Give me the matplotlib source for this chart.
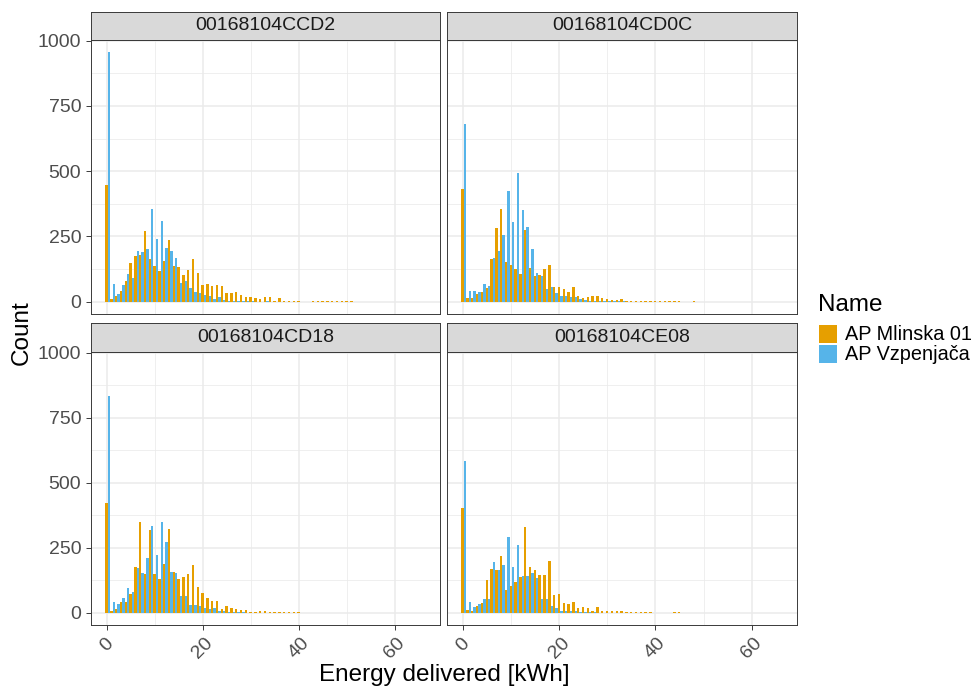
import matplotlib
matplotlib.use("Agg")
import matplotlib.pyplot as plt
from matplotlib.patches import Rectangle
import numpy as np

plt.rcParams['font.family'] = ['Liberation Sans', 'DejaVu Sans']

# histogram counts per 1 kWh bin, one list per charger and site
chargers = ['00168104CCD2', '00168104CD0C', '00168104CD18', '00168104CE08']
series_names = ['AP Mlinska 01', 'AP Vzpenjača']
series_colors = ['#E69F00', '#56B4E9']

mlinska_ccd2 = [445, 10, 20, 40, 80, 149, 174, 178, 270, 164, 136, 119, 154, 236, 136, 133,
                103, 122, 162, 110, 65, 68, 59, 64, 60, 31, 31, 36, 24, 17, 17, 12, 8, 17,
                17, 4, 12, 4, 4, 3, 3, 0, 0, 3, 3, 3, 3, 3, 3, 3, 3, 3]
vzpenjaca_ccd2 = [955, 69, 29, 63, 104, 91, 194, 191, 203, 356, 238, 309, 204, 194, 167, 72,
                  78, 51, 38, 33, 27, 23, 8, 17, 5, 4, 2, 2, 1, 1, 1, 0, 0, 1]

mlinska_cd0c = [431, 14, 12, 29, 36, 53, 164, 283, 356, 151, 142, 126, 106, 273, 129, 97,
                100, 123, 141, 55, 55, 49, 38, 55, 23, 14, 17, 23, 23, 14, 8, 5, 5, 10, 2,
                2, 3, 2, 2, 3, 2, 2, 2, 2, 1, 1, 0, 0, 2]
vzpenjaca_cd0c = [680, 42, 40, 36, 68, 60, 168, 192, 254, 424, 305, 492, 351, 287, 203, 110,
                  97, 49, 55, 31, 23, 23, 17, 17, 8, 5, 3, 3, 2, 2, 2, 1, 1, 1]

mlinska_cd18 = [420, 8, 13, 41, 41, 70, 177, 350, 149, 318, 150, 131, 187, 320, 155, 128,
                138, 147, 183, 97, 76, 56, 45, 45, 13, 26, 17, 12, 9, 9, 4, 4, 8, 5, 4, 4,
                4, 2, 2, 4, 4]
vzpenjaca_cd18 = [835, 42, 33, 58, 95, 78, 170, 154, 210, 333, 223, 347, 272, 158, 153, 63,
                  65, 28, 28, 26, 19, 15, 18, 6, 5, 3, 2, 1, 1]

mlinska_ce08 = [401, 10, 8, 24, 36, 126, 168, 162, 219, 87, 101, 117, 136, 328, 177, 162,
                145, 145, 200, 68, 72, 38, 33, 40, 17, 20, 17, 8, 20, 8, 5, 5, 8, 5, 2, 2,
                2, 2, 2, 2, 0, 0, 0, 0, 2, 2]
vzpenjaca_ce08 = [585, 40, 23, 33, 54, 54, 196, 165, 185, 292, 174, 259, 141, 141, 151, 133,
                  53, 53, 26, 17, 8, 8, 8, 8, 3, 2, 1, 1]

counts = [
    (mlinska_ccd2, vzpenjaca_ccd2),
    (mlinska_cd0c, vzpenjaca_cd0c),
    (mlinska_cd18, vzpenjaca_cd18),
    (mlinska_ce08, vzpenjaca_ce08),
]

W, H = 976, 689
fig = plt.figure(figsize=(W / 100, H / 100), dpi=100)


def px_axes(left, top, right, bottom):
    return fig.add_axes([left / W, 1 - bottom / H, (right - left) / W, (bottom - top) / H])


panel_boxes = [(91, 40, 440, 314), (447, 40, 797, 314),
               (91, 352, 440, 625), (447, 352, 797, 625)]
strip_boxes = [(91, 12, 440, 40), (447, 12, 797, 40),
               (91, 323, 440, 352), (447, 323, 797, 352)]

ymax = max(max(max(a), max(b)) for a, b in counts)
ylim = (-0.05 * ymax, 1.05 * ymax)
bin_offset = 0.2
bar_w = 0.5
frame_col = '#3A3A3A'

for i, (name, (orange, blue)) in enumerate(zip(chargers, counts)):
    ax = px_axes(*panel_boxes[i])
    for vals, col, shift in [(orange, series_colors[0], -0.25), (blue, series_colors[1], 0.25)]:
        centers = np.arange(len(vals)) + bin_offset + shift
        ax.bar(centers, vals, width=bar_w, color=col, linewidth=0, zorder=3)

    ax.set_xlim(-3.3, 69.4)
    ax.set_ylim(*ylim)
    ax.set_xticks([0, 20, 40, 60])
    ax.set_xticks([10, 30, 50], minor=True)
    ax.set_yticks([0, 250, 500, 750, 1000])
    ax.set_yticks([125, 375, 625, 875], minor=True)
    ax.grid(which='major', color='#EBEBEB', linewidth=1.1, zorder=0)
    ax.grid(which='minor', color='#EBEBEB', linewidth=0.55, zorder=0)
    ax.set_axisbelow(True)
    for sp in ax.spines.values():
        sp.set_color(frame_col)
        sp.set_linewidth(0.7)
    ax.tick_params(which='major', length=3.5, width=0.7, color=frame_col,
                   labelsize=14, labelcolor='#4D4D4D')
    ax.tick_params(which='minor', length=0)

    # axes only on the outer panels
    if i % 2 == 1:
        ax.tick_params(axis='y', left=False, labelleft=False)
    if i < 2:
        ax.tick_params(axis='x', bottom=False, labelbottom=False)
    else:
        for lab in ax.get_xticklabels():
            lab.set_rotation(45)
            lab.set_ha('center')

    sx = px_axes(*strip_boxes[i])
    sx.set_facecolor('#D9D9D9')
    sx.set_xticks([])
    sx.set_yticks([])
    for sp in sx.spines.values():
        sp.set_color(frame_col)
        sp.set_linewidth(0.7)
    sx.text(0.5, 0.5, name, ha='center', va='center', fontsize=14,
            color='#1A1A1A', transform=sx.transAxes)

# axis titles
fig.text(444 / W, 1 - 675 / H, 'Energy delivered [kWh]', ha='center', va='center',
         fontsize=17.5, color='black')
fig.text(22 / W, 1 - 333 / H, 'Count', ha='center', va='center', rotation=90,
         fontsize=17.5, color='black')

# legend
fig.text(818 / W, 1 - 305 / H, 'Name', ha='left', va='center', fontsize=17.5)
for j, (lab, col) in enumerate(zip(series_names, series_colors)):
    top = 325 + j * 20
    fig.add_artist(Rectangle((819 / W, 1 - (top + 18) / H), 18 / W, 18 / H,
                             transform=fig.transFigure, facecolor=col, edgecolor='none'))
    fig.text(845 / W, 1 - (top + 9) / H, lab, ha='left', va='center', fontsize=14.3)

fig.savefig('out.png', dpi=100)
